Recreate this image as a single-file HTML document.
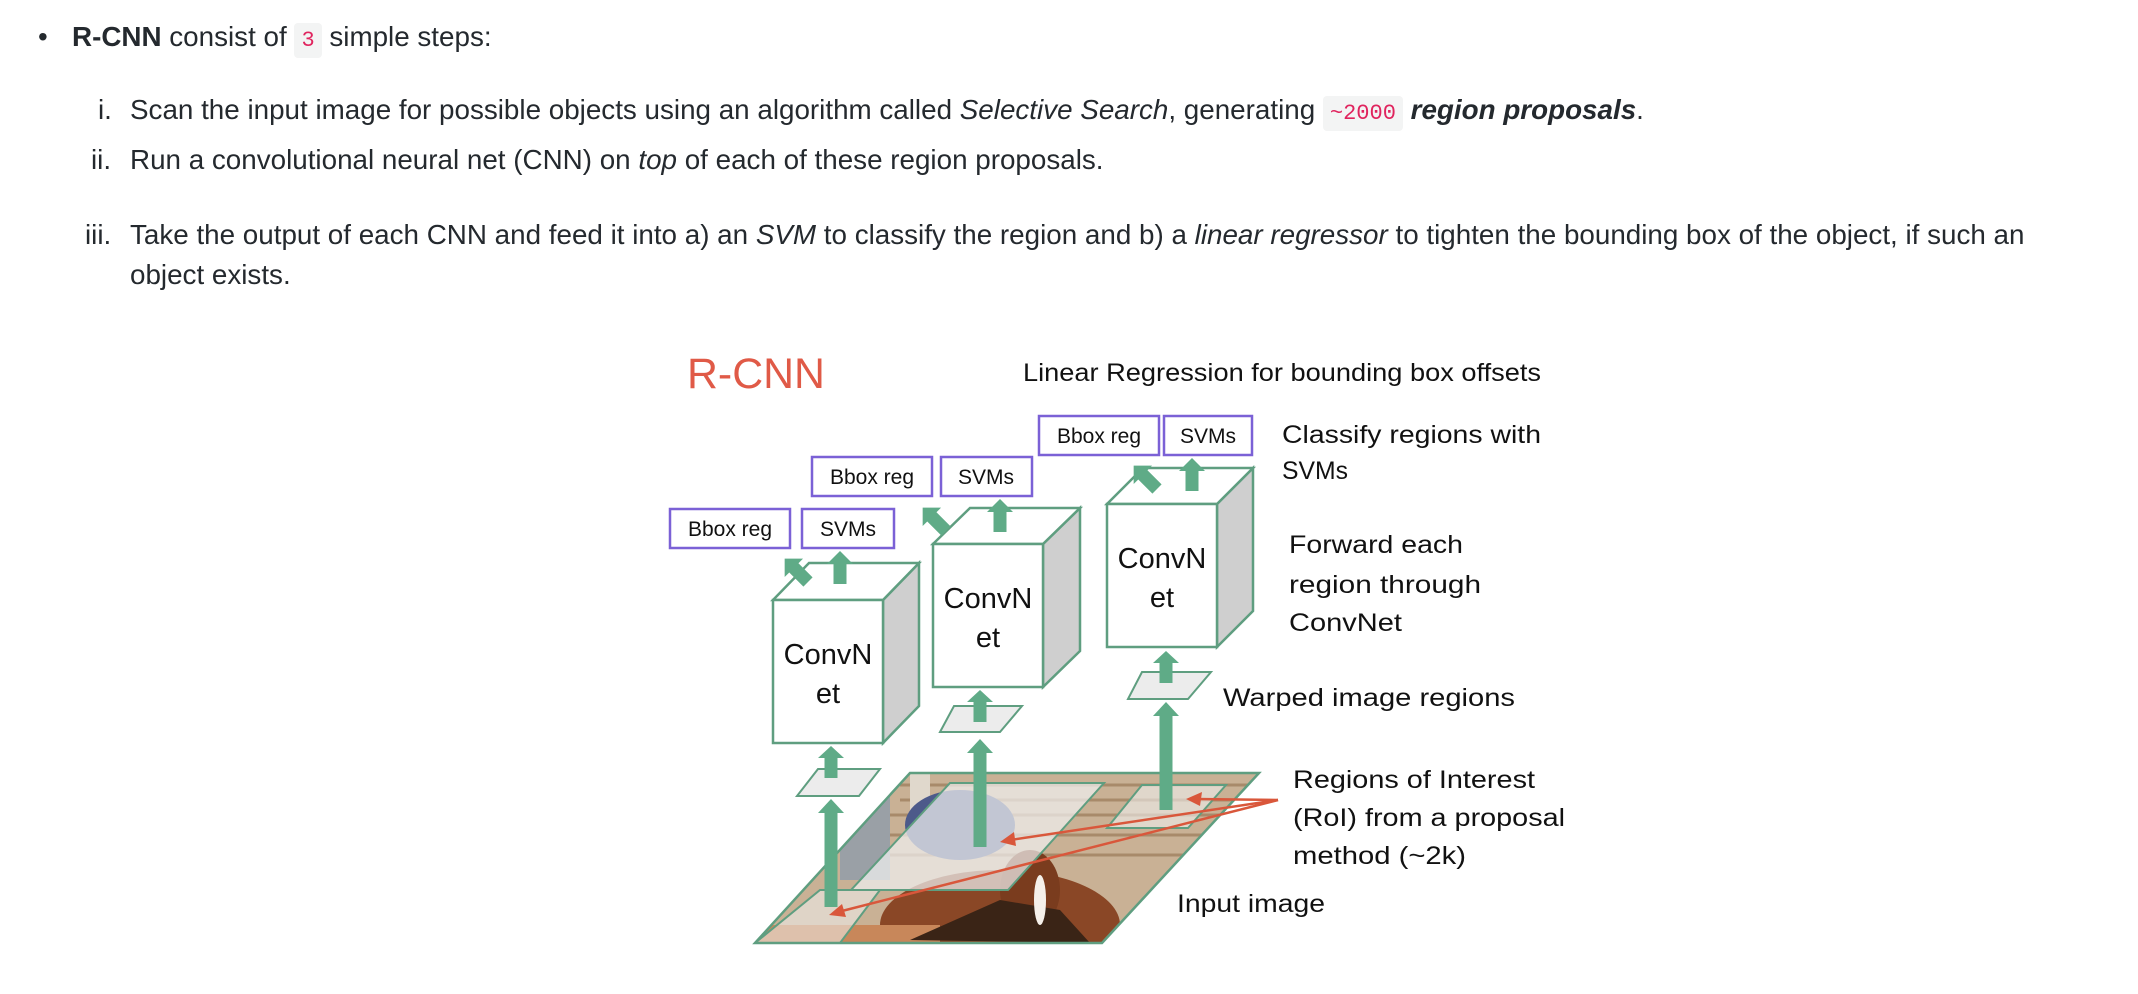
<!DOCTYPE html>
<html><head><meta charset="utf-8"><style>
html,body{margin:0;padding:0;background:#fff;}
body{width:2138px;height:994px;position:relative;overflow:hidden;font-family:"Liberation Sans",Arial,sans-serif;color:#24292e;font-size:27.8px;}
.t{position:absolute;white-space:nowrap;line-height:30px;}
code{font-family:"Liberation Mono",monospace;color:#e0245e;background:#f3f4f4;border-radius:4px;padding:5px 7px;font-size:22px;}
svg{position:absolute;left:0;top:0;}
</style></head><body>
<div class="t" style="left:38px;top:22px;">•</div>
<div class="t" style="left:72px;top:22px;"><b>R-CNN</b> consist of <code>3</code> simple steps:</div>
<div class="t" style="left:98px;top:95px;">i.</div>
<div class="t" style="left:130px;top:95px;">Scan the input image for possible objects using an algorithm called <i>Selective Search</i>, generating <code>~2000</code> <b><i>region proposals</i></b>.</div>
<div class="t" style="left:91px;top:145px;">ii.</div>
<div class="t" style="left:130px;top:145px;">Run a convolutional neural net (CNN) on <i>top</i> of each of these region proposals.</div>
<div class="t" style="left:85px;top:220px;">iii.</div>
<div class="t" style="left:130px;top:220px;">Take the output of each CNN and feed it into a) an <i>SVM</i> to classify the region and b) a <i>linear regressor</i> to tighten the bounding box of the object, if such an</div>
<div class="t" style="left:130px;top:260px;">object exists.</div>

<svg width="2138" height="994" viewBox="0 0 2138 994">
<defs>
<clipPath id="img"><polygon points="910,773 1259,773 1102,943 755,943"/></clipPath>
<g id="up"><polygon points="-6.5,0 -6.5,-20 -13,-20 0,-33 13,-20 6.5,-20 6.5,0"/></g>
</defs>
<text x="687" y="388" font-size="43" fill="#e05a47" font-family="Liberation Sans,sans-serif" textLength="138" lengthAdjust="spacingAndGlyphs">R-CNN</text>
<g font-family="Liberation Sans,sans-serif" font-size="25" fill="#111">
<text x="1023" y="381" textLength="518" lengthAdjust="spacingAndGlyphs">Linear Regression for bounding box offsets</text>
<text x="1282" y="443" textLength="259" lengthAdjust="spacingAndGlyphs">Classify regions with</text>
<text x="1282" y="479" textLength="66" lengthAdjust="spacingAndGlyphs">SVMs</text>
<text x="1289" y="553" textLength="174" lengthAdjust="spacingAndGlyphs">Forward each</text>
<text x="1289" y="593" textLength="192" lengthAdjust="spacingAndGlyphs">region through</text>
<text x="1289" y="631" textLength="113" lengthAdjust="spacingAndGlyphs">ConvNet</text>
<text x="1223" y="706" textLength="292" lengthAdjust="spacingAndGlyphs">Warped image regions</text>
<text x="1293" y="788" textLength="242" lengthAdjust="spacingAndGlyphs">Regions of Interest</text>
<text x="1293" y="826" textLength="272" lengthAdjust="spacingAndGlyphs">(RoI) from a proposal</text>
<text x="1293" y="864" textLength="173" lengthAdjust="spacingAndGlyphs">method (~2k)</text>
<text x="1177" y="912" textLength="148" lengthAdjust="spacingAndGlyphs">Input image</text>
</g>
<g fill="#fff" stroke="#7b61d6" stroke-width="2.5">
<rect x="1039" y="416" width="120" height="39"/><rect x="1164" y="416" width="88" height="39"/>
<rect x="812" y="457" width="120" height="39"/><rect x="941" y="457" width="91" height="39"/>
<rect x="670" y="509" width="120" height="39"/><rect x="802" y="509" width="92" height="39"/>
</g>
<g font-family="Liberation Sans,sans-serif" font-size="21" fill="#111" text-anchor="middle">
<text x="1099" y="443">Bbox reg</text><text x="1208" y="443">SVMs</text>
<text x="872" y="484">Bbox reg</text><text x="986" y="484">SVMs</text>
<text x="730" y="536">Bbox reg</text><text x="848" y="536">SVMs</text>
</g>
<g clip-path="url(#img)">
<rect x="740" y="770" width="530" height="180" fill="#c9b195"/>
<g stroke="#a88a6a" stroke-width="3"><line x1="900" y1="785" x2="1270" y2="785"/><line x1="900" y1="800" x2="1270" y2="800"/><line x1="880" y1="815" x2="1270" y2="815"/><line x1="870" y1="835" x2="1270" y2="835"/><line x1="860" y1="855" x2="1270" y2="855"/></g>
<rect x="840" y="790" width="50" height="90" fill="#9aa0a6"/>
<rect x="910" y="773" width="20" height="40" fill="#e0d8cc"/>
<ellipse cx="960" cy="825" rx="55" ry="35" fill="#4d5a8a"/>
<ellipse cx="1000" cy="925" rx="120" ry="55" fill="#8a4726"/>
<ellipse cx="1030" cy="890" rx="30" ry="40" fill="#7a3c1e"/>
<rect x="740" y="925" width="200" height="25" fill="#c8875a"/>
<polygon points="910,940 1000,900 1060,910 1090,943" fill="#3a2416"/>
<ellipse cx="1040" cy="900" rx="6" ry="25" fill="#f5f0ea"/>
<polygon points="950,783 1104,783 1008,890 851,890" fill="rgba(240,240,240,0.72)" stroke="#5f9e80" stroke-width="2"/>
<polygon points="1142,785 1226,785 1188,828 1107,828" fill="rgba(240,240,240,0.6)" stroke="#5f9e80" stroke-width="2"/>
<polygon points="755,943 840,943 880,890 820,890" fill="rgba(240,240,240,0.55)" stroke="#5f9e80" stroke-width="2"/>
</g>
<polygon points="910,773 1259,773 1102,943 755,943" fill="none" stroke="#5f9e80" stroke-width="2.5"/>
<g fill="#ececec" stroke="#5f9e80" stroke-width="2">
<polygon points="818,769 880,769 859,796 797,796"/>
<polygon points="954,706 1022,706 1000,732 940,732"/>
<polygon points="1142,672 1211,672 1188,699 1128,699"/>
</g>
<g stroke="#5f9e80" stroke-width="2.5">
<polygon points="883,600 919,563 919,706 883,743" fill="#cfcfcf"/>
<polygon points="773,600 809,563 919,563 883,600" fill="#fff"/>
<rect x="773" y="600" width="110" height="143" fill="#fff"/>
<polygon points="1043,544 1080,508 1080,651 1043,687" fill="#cfcfcf"/>
<polygon points="933,544 970,508 1080,508 1043,544" fill="#fff"/>
<rect x="933" y="544" width="110" height="143" fill="#fff"/>
<polygon points="1217,504 1253,468 1253,611 1217,647" fill="#cfcfcf"/>
<polygon points="1107,504 1143,468 1253,468 1217,504" fill="#fff"/>
<rect x="1107" y="504" width="110" height="143" fill="#fff"/>
</g>
<g font-family="Liberation Sans,sans-serif" font-size="29" fill="#111" text-anchor="middle">
<text x="828" y="664">ConvN</text><text x="828" y="703">et</text>
<text x="988" y="608">ConvN</text><text x="988" y="647">et</text>
<text x="1162" y="568">ConvN</text><text x="1162" y="607">et</text>
</g>
<g fill="#5fab87">
<polygon points="824.5,907 824.5,813 818,813 831,799 844,813 837.5,813 837.5,907"/>
<polygon points="824.5,778 824.5,758 818,758 831,746 844,758 837.5,758 837.5,778"/>
<polygon points="973.5,847 973.5,753 967,753 980,739 993,753 986.5,753 986.5,847"/>
<polygon points="973.5,722 973.5,702 967,702 980,690 993,702 986.5,702 986.5,722"/>
<polygon points="1159.5,810 1159.5,716 1153,716 1166,702 1179,716 1172.5,716 1172.5,810"/>
<polygon points="1159.5,683 1159.5,663 1153,663 1166,651 1179,663 1172.5,663 1172.5,683"/>
<use href="#up" transform="translate(840,584)"/>
<use href="#up" transform="translate(1000,532)"/>
<use href="#up" transform="translate(1192,491)"/>
<use href="#up" transform="translate(808,582) rotate(-45)"/>
<use href="#up" transform="translate(946,531) rotate(-45)"/>
<use href="#up" transform="translate(1157,489) rotate(-45)"/>
</g>
<g stroke="#d9573b" stroke-width="2.5" fill="none">
<line x1="1278" y1="800" x2="1195" y2="799"/>
<line x1="1278" y1="800" x2="1010" y2="840"/>
<line x1="1278" y1="800" x2="838" y2="912"/>
</g>
<g fill="#d9573b">
<polygon points="1186,799 1202,792 1200,806"/>
<polygon points="1000,842 1014,832 1016,846"/>
<polygon points="829,915 842,904 846,917"/>
</g>
</svg>
</body></html>
